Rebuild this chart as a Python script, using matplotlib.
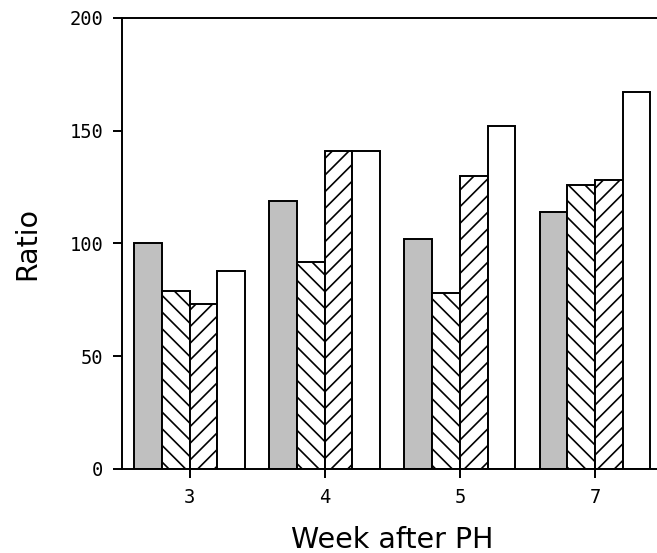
import matplotlib
matplotlib.use('Agg')
import matplotlib.pyplot as plt
import numpy as np

plt.rcParams['font.family'] = ['DejaVu Sans']
plt.rcParams['hatch.linewidth'] = 1.2

weeks = ['3', '4', '5', '7']
series_a = [100, 119, 102, 114]   # grey
series_b = [79, 92, 78, 126]      # back-hatched
series_c = [73, 141, 130, 128]    # forward-hatched
series_d = [88, 141, 152, 167]    # white

fig = plt.figure(figsize=(6.57, 5.53), dpi=100)
ax = fig.add_axes([0.1857, 0.1519, 0.8228, 0.8156])

x = np.arange(len(weeks))
w = 0.205
ax.bar(x - 1.5 * w, series_a, w, color='#c0c0c0', edgecolor='black', linewidth=1.4)
ax.bar(x - 0.5 * w, series_b, w, color='white', edgecolor='black', linewidth=1.4, hatch='\\\\')
ax.bar(x + 0.5 * w, series_c, w, color='white', edgecolor='black', linewidth=1.4, hatch='//')
ax.bar(x + 1.5 * w, series_d, w, color='white', edgecolor='black', linewidth=1.4)

ax.set_xlim(-0.5, 3.5)
ax.set_ylim(0, 200)
ax.set_yticks([0, 50, 100, 150, 200])
ax.set_xticks(x)
ax.set_xticklabels(weeks)

for s in ax.spines.values():
    s.set_linewidth(1.4)
ax.tick_params(axis='both', direction='out', length=6.5, width=1.4, labelsize=13.5)
ax.tick_params(axis='both', pad=7)
for lab in ax.get_xticklabels() + ax.get_yticklabels():
    lab.set_family('DejaVu Sans Mono')

ax.set_ylabel('Ratio', fontsize=20.5, labelpad=20)
ax.set_xlabel('Week after PH', fontsize=20.5, labelpad=14)

fig.savefig('out.png', dpi=100)
